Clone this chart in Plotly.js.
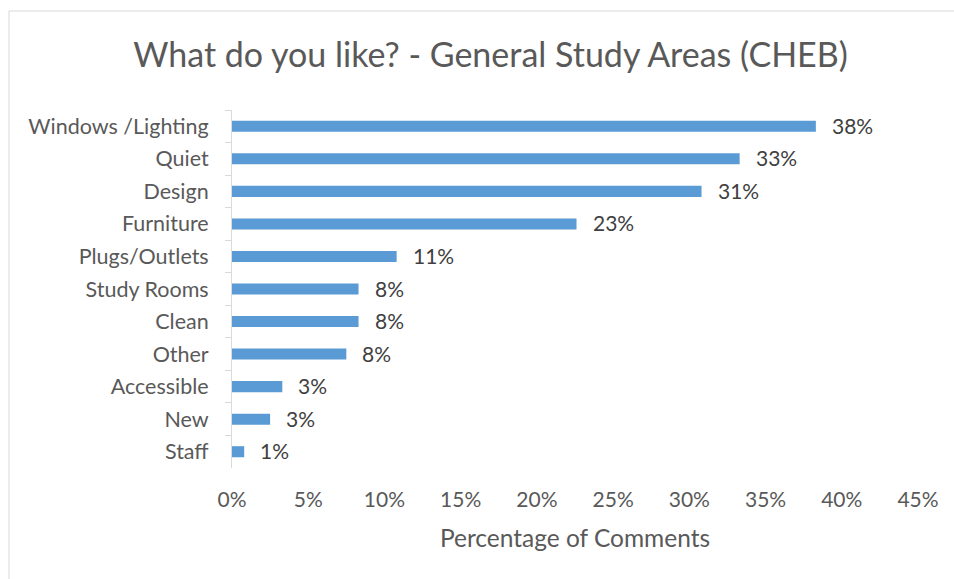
<!DOCTYPE html>
<html>
<head>
<meta charset="utf-8">
<script src="https://cdn.plot.ly/plotly-3.0.1.min.js"></script>
<style>
html,body{margin:0;padding:0;background:#fff;}
#chart{width:954px;height:579px;}
</style>
</head>
<body>
<div id="chart"></div>
<script>
const categories = ["Windows /Lighting","Quiet","Design","Furniture","Plugs/Outlets","Study Rooms","Clean","Other","Accessible","New","Staff"];
const values = [38.3, 33.3, 30.8, 22.6, 10.8, 8.3, 8.3, 7.5, 3.3, 2.5, 0.8];
const valueLabels = ["38%","33%","31%","23%","11%","8%","8%","8%","3%","3%","1%"];
const xTickValues = [0,5,10,15,20,25,30,35,40,45];
const xTickLabels = ["0%","5%","10%","15%","20%","25%","30%","35%","40%","45%"];

const W = 954, H = 579;
const L = 232, R = 36, T = 110, B = 111;
const pw = W - L - R, ph = H - T - B;
const px = v => (v - L) / pw;
const py = v => (H - B - v) / ph;

const fontFam = "Lato, 'Open Sans', sans-serif";

const labelAnnotations = categories.map((c, i) => ({
  x: values[i], y: c, xref: 'x', yref: 'y',
  text: valueLabels[i], showarrow: false,
  xanchor: 'left', yanchor: 'middle', xshift: 14, yshift: 1,
  font: {family: fontFam, size: 21, color: '#404040'}
}));

Plotly.newPlot('chart', [{
  type: 'bar',
  orientation: 'h',
  y: categories,
  x: values,
  cliponaxis: false,
  marker: {color: '#5b9bd5'},
  hoverinfo: 'skip'
}], {
  width: W, height: H,
  margin: {l: L, r: R, t: T, b: B, pad: 0},
  paper_bgcolor: '#ffffff',
  plot_bgcolor: '#ffffff',
  bargap: 0.66,
  showlegend: false,
  title: {
    text: 'What do you like? - General Study Areas (CHEB)',
    font: {family: fontFam, size: 34, color: '#595959'},
    x: 490.5 / W, xanchor: 'center', xref: 'container',
    y: 1 - 55 / H, yanchor: 'middle', yref: 'container'
  },
  xaxis: {
    range: [0, 45],
    tickvals: xTickValues,
    ticktext: xTickLabels,
    showgrid: false,
    zeroline: false,
    showline: false,
    ticks: '',
    ticklabelstandoff: 17,
    tickfont: {family: fontFam, size: 21, color: '#595959'},
    title: {text: 'Percentage of Comments', font: {family: fontFam, size: 24.5, color: '#595959'}, standoff: 19},
    fixedrange: true
  },
  yaxis: {
    autorange: 'reversed',
    type: 'category',
    showgrid: false,
    zeroline: false,
    showline: true,
    linecolor: '#d9d9d9',
    linewidth: 1,
    ticks: 'outside',
    tickson: 'boundaries',
    ticklen: 6,
    tickcolor: '#d9d9d9',
    ticklabelstandoff: 18,
    tickfont: {family: fontFam, size: 21.5, color: '#595959'},
    fixedrange: true
  },
  annotations: labelAnnotations,
  shapes: [
    {type: 'line', xref: 'paper', yref: 'paper', x0: px(9), x1: px(9), y0: py(11), y1: py(600), line: {color: '#d9d9d9', width: 1}},
    {type: 'line', xref: 'paper', yref: 'paper', x0: px(9), x1: px(960), y0: py(11), y1: py(11), line: {color: '#d9d9d9', width: 1}}
  ]
}, {displayModeBar: false, staticPlot: true});
</script>
</body>
</html>
